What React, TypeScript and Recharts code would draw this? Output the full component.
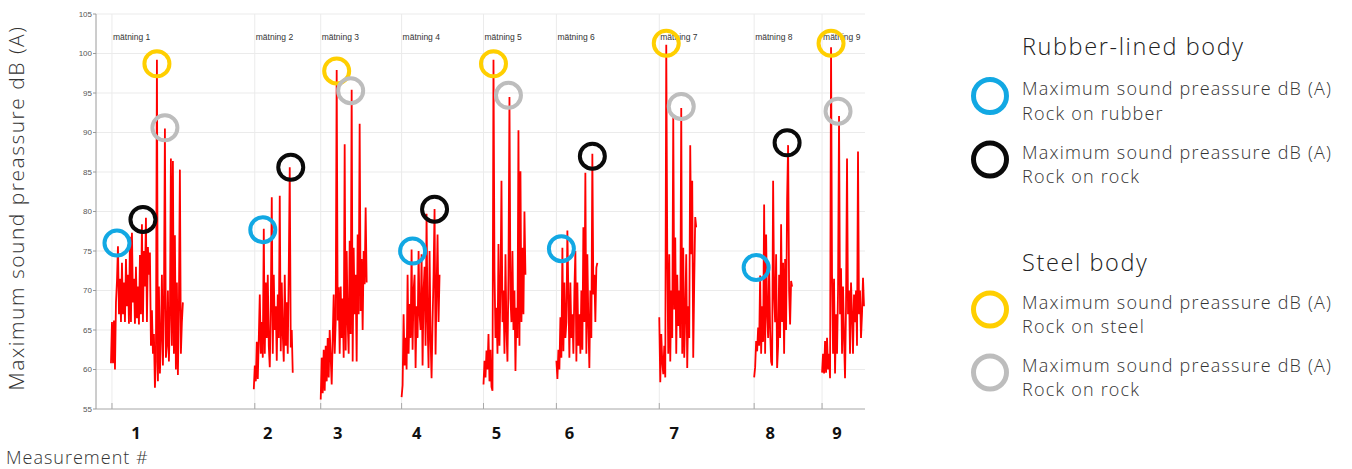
import React from 'react';
import { ComposedChart, Line, Scatter, XAxis, YAxis, CartesianGrid, ReferenceLine } from 'recharts';

// sample index where each measurement starts (grid lines + "mätning" labels)
const measurementStarts = [16, 159, 225, 306, 388, 461, 564, 659, 727];
const measurementNames = ['mätning 1', 'mätning 2', 'mätning 3', 'mätning 4', 'mätning 5', 'mätning 6', 'mätning 7', 'mätning 8', 'mätning 9'];
const measurementNumbers = ['1', '2', '3', '4', '5', '6', '7', '8', '9'];
const yTicks = [55, 60, 65, 70, 75, 80, 85, 90, 95, 100, 105];

// recorded sound level traces, dB (A), one sample per index
const traceStarts = [15, 158, 225, 306, 388, 461, 564, 659, 727];
const trace1 = [60.8, 66.0, 60.8, 66.2, 60.0, 68.5, 71.2, 75.6, 67.0, 71.5, 66.0, 73.5, 67.0, 71.0, 66.0, 74.0, 68.0, 72.0, 65.8, 76.8, 66.0, 77.3, 68.5, 71.5, 65.8, 73.0, 66.5, 70.5, 65.7, 74.5, 67.0, 78.4, 66.0, 75.0, 70.5, 79.2, 66.0, 75.5, 72.0, 74.8, 63.0, 67.5, 62.0, 64.5, 57.7, 61.0, 99.2, 58.5, 70.5, 59.5, 64.0, 72.0, 60.5, 68.0, 90.5, 61.5, 63.0, 70.0, 61.0, 66.5, 86.7, 63.0, 86.4, 62.0, 77.0, 60.0, 71.0, 59.3, 68.0, 85.3, 62.0, 66.0, 68.5];
const trace2 = [57.5, 60.5, 58.5, 63.5, 58.8, 64.0, 69.5, 62.0, 66.0, 61.5, 77.8, 62.0, 71.0, 64.0, 72.0, 63.0, 60.3, 68.0, 81.8, 62.0, 72.0, 65.0, 68.0, 61.1, 69.5, 64.0, 82.0, 62.3, 71.0, 64.5, 61.0, 72.0, 63.0, 68.5, 62.0, 72.5, 85.6, 62.8, 65.0, 59.6];
const trace3 = [56.2, 61.5, 57.0, 62.5, 57.3, 63.0, 58.5, 64.0, 59.0, 65.0, 61.5, 58.1, 64.0, 69.5, 62.0, 66.0, 97.9, 66.2, 70.4, 62.0, 70.5, 64.0, 69.0, 61.5, 88.5, 62.4, 75.0, 66.0, 62.0, 76.3, 64.5, 95.4, 61.0, 75.4, 67.0, 72.0, 61.0, 77.1, 67.0, 91.1, 67.4, 74.0, 65.0, 75.0, 70.8, 80.5, 71.0];
const trace4 = [56.5, 58.0, 67.0, 60.5, 64.0, 60.0, 72.0, 62.0, 68.3, 64.0, 75.2, 62.5, 70.0, 72.0, 60.2, 68.0, 64.0, 75.0, 67.0, 65.0, 74.6, 60.5, 70.0, 73.0, 63.0, 79.7, 66.0, 60.2, 75.0, 64.0, 58.9, 66.0, 72.0, 80.3, 61.9, 70.0, 77.1, 66.0, 72.0];
const trace5 = [58.1, 61.1, 59.0, 62.4, 60.0, 64.5, 58.5, 62.5, 57.8, 57.3, 99.2, 72.5, 64.0, 67.8, 62.0, 75.9, 63.0, 70.0, 83.9, 66.0, 70.0, 62.0, 74.6, 65.0, 61.0, 72.0, 94.5, 69.0, 66.0, 75.0, 65.0, 70.0, 59.8, 67.8, 64.0, 90.3, 63.0, 85.1, 66.0, 75.4, 67.0, 80.0, 72.0];
const trace6 = [61.1, 58.8, 62.5, 60.0, 66.6, 61.5, 75.4, 62.3, 71.0, 64.0, 66.0, 77.6, 69.5, 61.5, 71.0, 64.0, 67.0, 62.0, 70.0, 75.0, 61.0, 71.0, 63.0, 67.0, 62.0, 70.0, 62.5, 78.0, 66.0, 84.9, 62.0, 74.6, 66.0, 60.2, 70.0, 64.0, 87.3, 69.5, 72.0, 66.0, 72.9, 73.5];
const trace7 = [66.6, 58.4, 64.5, 61.0, 59.4, 63.0, 59.0, 101.1, 74.6, 62.0, 74.6, 61.0, 70.0, 64.0, 92.1, 67.6, 76.7, 62.0, 72.0, 65.5, 70.0, 64.0, 93.1, 62.0, 75.4, 61.5, 67.0, 74.6, 60.2, 68.0, 64.0, 88.4, 74.6, 83.9, 61.5, 71.0, 79.3, 78.0];
const trace8 = [59.0, 60.3, 63.6, 62.3, 65.3, 63.0, 71.9, 62.0, 68.0, 63.5, 80.9, 62.0, 77.1, 67.0, 64.0, 73.0, 65.0, 61.0, 60.5, 83.9, 69.5, 66.0, 74.6, 60.2, 63.0, 72.0, 64.0, 78.4, 66.0, 73.5, 62.0, 74.0, 65.0, 81.5, 88.4, 70.0, 65.7, 71.2, 70.5];
const trace9 = [59.6, 62.0, 59.5, 63.6, 59.6, 64.0, 60.0, 62.0, 58.9, 100.8, 72.0, 62.0, 71.5, 59.5, 67.0, 62.0, 70.0, 92.1, 67.0, 72.8, 62.0, 70.5, 64.0, 58.9, 68.0, 86.7, 67.0, 70.0, 62.0, 71.0, 67.0, 62.0, 69.5, 66.0, 70.0, 63.0, 87.6, 67.0, 70.0, 64.0, 67.0, 71.6, 68.0];

// maximum sound pressure markers
const rubberOnRubberAt = [21, 167, 317, 466, 661];
const rubberOnRubberDb = [76.0, 77.7, 75.0, 75.3, 72.9];
const rubberRockAt = [47, 195, 339, 497, 692];
const rubberRockDb = [79.0, 85.6, 80.3, 87.0, 88.7];
const steelOnSteelAt = [61, 241, 398, 571, 736];
const steelOnSteelDb = [98.7, 97.8, 98.7, 101.3, 101.3];
const steelRockAt = [69, 255, 413, 586, 743];
const steelRockDb = [90.6, 95.3, 94.7, 93.3, 92.7];

const BLUE = '#12a8e3';
const BLACK = '#0a0a0a';
const YELLOW = '#ffcf00';
const GRAY = '#bdbdbd';
const FONT = '"Open Sans", sans-serif';

const traces = [trace1, trace2, trace3, trace4, trace5, trace6, trace7, trace8, trace9];
const lineData = traces.flatMap((vals, k) => [
  ...vals.map((db, i) => ({ t: traceStarts[k] + i, db })),
  { t: traceStarts[k] + vals.length, db: null },
]);

const toPoints = (at: number[], db: number[]) => at.map((t, i) => ({ t, db: db[i] }));

const ring = (color: string) => (props: any) => (
  <circle cx={props.cx} cy={props.cy} r={12.5} fill="none" stroke={color} strokeWidth={4} />
);

const numberNudge = [24, 13, 17, 15, 13, 13, 15, 16, 15];

const MeasurementTick = (props: any) => {
  const { x, y, index } = props;
  return (
    <g>
      <line x1={x} x2={x} y1={y - 6} y2={y} stroke="#a8a8a8" />
      <text x={x + numberNudge[index]} y={y + 30} textAnchor="middle" fontFamily={FONT} fontWeight={700} fontSize={16.5} fill="#111">
        {measurementNumbers[index]}
      </text>
    </g>
  );
};

const legendGroups = [
  { title: 'Rubber-lined body', y: 55, items: [{ color: BLUE, text: 'Rock on rubber', y: 96 }, { color: BLACK, text: 'Rock on rock', y: 159.5 }] },
  { title: 'Steel body', y: 270.5, items: [{ color: YELLOW, text: 'Rock on steel', y: 309.5 }, { color: GRAY, text: 'Rock on rock', y: 372.5 }] },
];

const App = () => {
  return (
    <div style={{ position: 'absolute', left: 0, top: 0, width: 1352, height: 469, background: '#fff', overflow: 'hidden' }}>
      <ComposedChart width={1352} height={469} data={lineData} margin={{ top: 14, right: 487, bottom: 0, left: 0 }}>
        <CartesianGrid stroke="#ebebeb" vertical={false} />
        <XAxis
          dataKey="t"
          type="number"
          domain={[0, 769]}
          ticks={measurementStarts}
          interval={0}
          tickSize={0}
          tickMargin={0}
          tickLine={false}
          stroke="#b0b0b0"
          tick={<MeasurementTick />}
          height={60}
          label={{ content: () => <text x={6} y={463.5} fontFamily={FONT} fontWeight={300} fontSize={18} letterSpacing={1} fill="#333">Measurement #</text> }}
        />
        <YAxis
          type="number"
          domain={[55, 105]}
          ticks={yTicks}
          interval={0}
          width={96}
          tickSize={3}
          tickMargin={1}
          stroke="#9a9a9a"
          tick={{ fontSize: 8, fill: '#555', fontFamily: 'Liberation Sans, Arial, sans-serif' }}
          label={{
            content: () => (
              <text transform="translate(24,208) rotate(-90)" textAnchor="middle" fontFamily={FONT} fontWeight={300} fontSize={21} letterSpacing={1.5} fill="#333">
                Maximum sound preassure dB (A)
              </text>
            ),
          }}
        />
        {measurementStarts.map((t, i) => (
          <ReferenceLine
            key={t}
            x={t}
            stroke="#ebebeb"
            label={{
              content: (p: any) => (
                <text x={p.viewBox.x + 1} y={p.viewBox.y + 26} fontFamily="Liberation Sans, Arial, sans-serif" fontSize={8.5} fill="#333">
                  {measurementNames[i]}
                </text>
              ),
            }}
          />
        ))}
        <Line dataKey="db" stroke="#ff0000" strokeWidth={1.8} dot={false} connectNulls={false} isAnimationActive={false} />
        <Scatter data={toPoints(rubberOnRubberAt, rubberOnRubberDb)} dataKey="db" shape={ring(BLUE)} isAnimationActive={false} />
        <Scatter data={toPoints(rubberRockAt, rubberRockDb)} dataKey="db" shape={ring(BLACK)} isAnimationActive={false} />
        <Scatter data={toPoints(steelOnSteelAt, steelOnSteelDb)} dataKey="db" shape={ring(YELLOW)} isAnimationActive={false} />
        <Scatter data={toPoints(steelRockAt, steelRockDb)} dataKey="db" shape={ring(GRAY)} isAnimationActive={false} />
      </ComposedChart>

      {/* legend */}
      <svg width={1352} height={469} style={{ position: 'absolute', left: 0, top: 0, pointerEvents: 'none' }}>
        {legendGroups.map((g) => (
          <g key={g.title}>
            <text x={1022} y={g.y} fontFamily={FONT} fontWeight={300} fontSize={23.5} letterSpacing={1.6} fill="#222">{g.title}</text>
            {g.items.map((it) => (
              <g key={it.color}>
                <circle cx={990} cy={it.y} r={16.5} fill="none" stroke={it.color} strokeWidth={5} />
                <text x={1022} y={it.y - 1} fontFamily={FONT} fontWeight={300} fontSize={18} letterSpacing={1.2} fill="#333">Maximum sound preassure dB (A)</text>
                <text x={1022} y={it.y + 23.5} fontFamily={FONT} fontWeight={300} fontSize={18} letterSpacing={1.2} fill="#333">{it.text}</text>
              </g>
            ))}
          </g>
        ))}
      </svg>
    </div>
  );
};

export default App;
